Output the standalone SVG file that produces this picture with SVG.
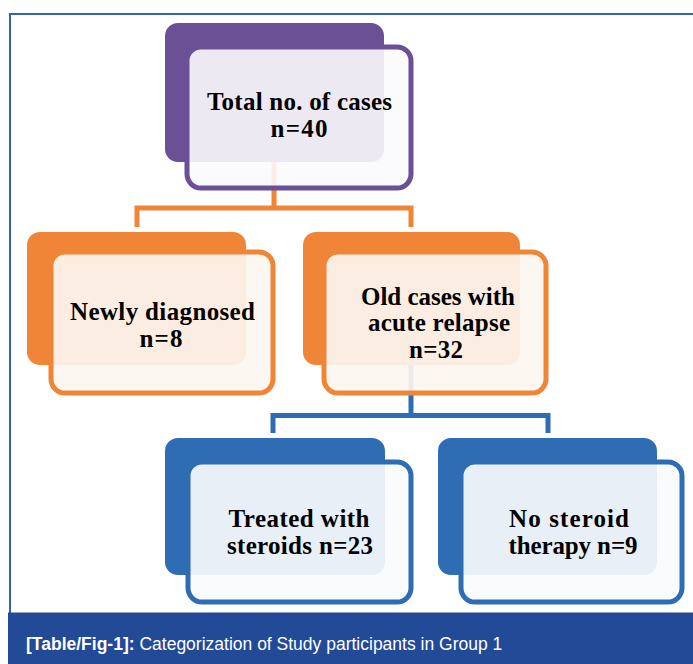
<svg xmlns="http://www.w3.org/2000/svg" width="693" height="664" viewBox="0 0 693 664">
<style>
.lbl{font-family:"Liberation Serif","Times New Roman",serif;font-weight:bold;font-size:25px;fill:#000;text-anchor:middle}
.p-back{fill:#6b5096}
.p-front{fill:#fbfafd;fill-opacity:0.9;stroke:#6b5096;stroke-width:5}
.o-back{fill:#f08538}
.o-front{fill:#fdf6f1;fill-opacity:0.92;stroke:#f08538;stroke-width:5}
.b-back{fill:#2e6db4}
.b-front{fill:#fafbfd;fill-opacity:0.92;stroke:#2e6db4;stroke-width:5}
.cap{font-family:"Liberation Sans",Arial,sans-serif;font-size:17.5px;fill:#fff}
</style>
<rect width="693" height="664" fill="#fff"/>
<path d="M10 613 V14 H693" fill="none" stroke="#3461b3" stroke-width="2"/>
<g id="connectors" fill="none" stroke-width="5">
  <path d="M274 162 V208 M137 227 V208 H411 V227" stroke="#f08538"/>
  <path d="M411 365 V415.5 M273 433 V415.5 H548 V433" stroke="#2e6db4"/>
</g>
<g id="node-total">
  <rect class="p-back" x="165" y="23" width="219" height="139" rx="13"/>
  <rect class="p-front" x="187" y="47" width="224" height="141" rx="14"/>
  <text class="lbl" x="299.5" y="110" textLength="185" lengthAdjust="spacing">Total no. of cases</text>
  <text class="lbl" x="299" y="137" textLength="57" lengthAdjust="spacing">n=40</text>
</g>
<g id="node-new">
  <rect class="o-back" x="27" y="232" width="219" height="133" rx="13"/>
  <rect class="o-front" x="51" y="252" width="222" height="141" rx="14"/>
  <text class="lbl" x="162.5" y="320" textLength="185" lengthAdjust="spacing">Newly diagnosed</text>
  <text class="lbl" x="161" y="347" textLength="43" lengthAdjust="spacing">n=8</text>
</g>
<g id="node-old">
  <rect class="o-back" x="303" y="232" width="217" height="133" rx="13"/>
  <rect class="o-front" x="324" y="252" width="222" height="141" rx="14"/>
  <text class="lbl" x="438" y="305" textLength="154" lengthAdjust="spacing">Old cases with</text>
  <text class="lbl" x="439" y="331" textLength="142" lengthAdjust="spacing">acute relapse</text>
  <text class="lbl" x="436" y="358" textLength="54" lengthAdjust="spacing">n=32</text>
</g>
<g id="node-steroids">
  <rect class="b-back" x="165" y="438" width="220" height="137" rx="13"/>
  <rect class="b-front" x="188" y="462" width="223" height="140" rx="14"/>
  <text class="lbl" x="299" y="527" textLength="141" lengthAdjust="spacing">Treated with</text>
  <text class="lbl" x="300" y="554" textLength="146" lengthAdjust="spacing">steroids n=23</text>
</g>
<g id="node-nosteroid">
  <rect class="b-back" x="438" y="438" width="219" height="137" rx="13"/>
  <rect class="b-front" x="461" y="462" width="221" height="140" rx="14"/>
  <text class="lbl" x="569" y="527" textLength="120" lengthAdjust="spacing">No steroid</text>
  <text class="lbl" x="573" y="554" textLength="129" lengthAdjust="spacing">therapy n=9</text>
</g>
<g id="caption">
  <rect x="8" y="612.5" width="685" height="51.5" fill="#234a97"/>
  <text class="cap" x="26" y="650"><tspan font-weight="bold">[Table/Fig-1]:</tspan> Categorization of Study participants in Group 1</text>
</g>
</svg>
